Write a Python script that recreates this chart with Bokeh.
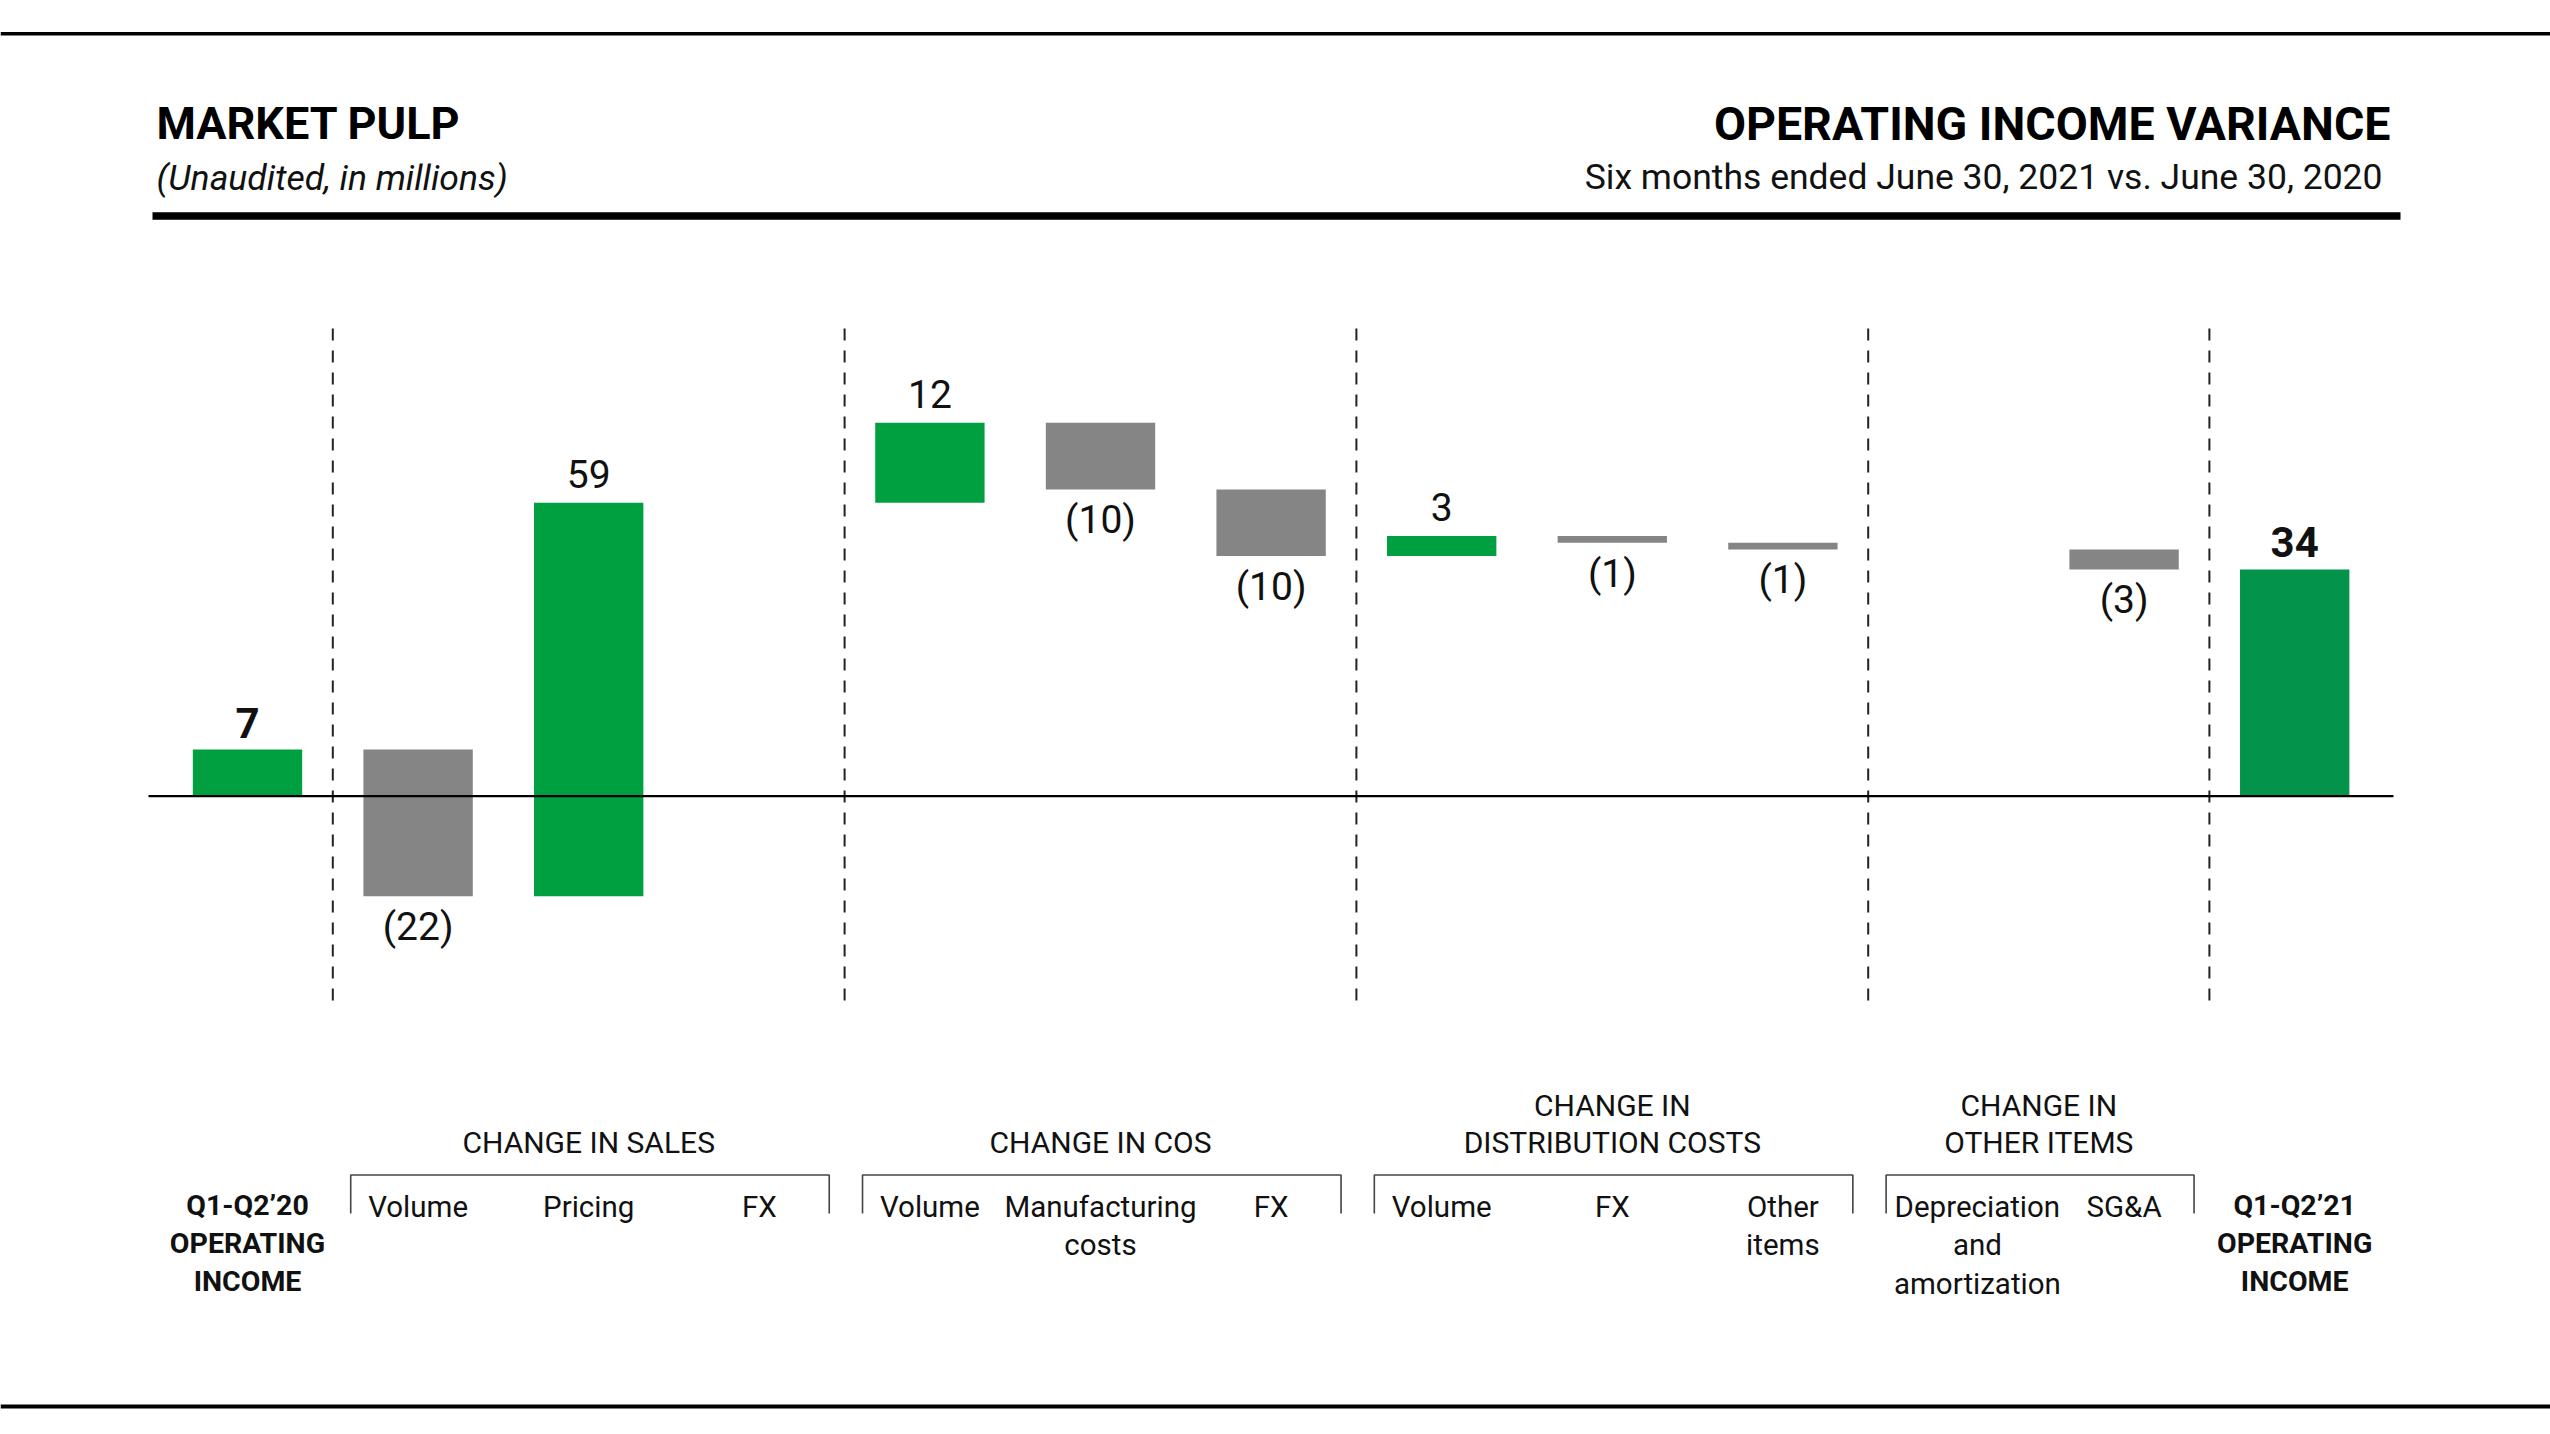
from bokeh.plotting import figure
from bokeh.models import Range1d, ColumnDataSource
from bokeh.core.properties import value
from bokeh.embed import file_html
from bokeh.resources import INLINE

# ---------------- data ----------------
categories = ["Q1-Q2'20 operating income", "Sales volume", "Sales pricing", "Sales FX",
              "COS volume", "Manufacturing costs", "COS FX",
              "Distribution volume", "Distribution FX", "Distribution other items",
              "Depreciation and amortization", "SG&A", "Q1-Q2'21 operating income"]
changes = [7, -22, 59, 0, 12, -10, -10, 3, -1, -1, 0, -3, 34]
is_total = [True, False, False, False, False, False, False, False, False, False, False, False, True]
sub_labels = ["", "Volume", "Pricing", "FX", "Volume", "Manufacturing\ncosts", "FX",
              "Volume", "FX", "Other\nitems", "Depreciation\nand\namortization", "SG&A", ""]
total_labels = ["Q1-Q2\u201920\nOPERATING\nINCOME", "Q1-Q2\u201921\nOPERATING\nINCOME"]
total_index = [0, 12]
group_titles = ["CHANGE IN SALES", "CHANGE IN COS", "CHANGE IN\nDISTRIBUTION COSTS", "CHANGE IN\nOTHER ITEMS"]
group_first = [1, 4, 7, 10]
group_last = [3, 6, 9, 11]
separators_after = [0, 3, 6, 9, 11]
title_left = "MARKET PULP"
subtitle_left = "(Unaudited, in millions)"
title_right = "OPERATING INCOME VARIANCE"
subtitle_right = "Six months ended June 30, 2021 vs. June 30, 2020"

# ---------------- layout / style ----------------
W, H = 2550, 1434
STEP = 170.6           # px per category
X0 = 247               # px of first category centre
PXU = 6.67             # px per million
ZERO = 795.7           # px of zero line from top
x_start = -X0 / STEP
x_end = x_start + W / STEP
y_end = ZERO / PXU
y_start = y_end - H / PXU

def fx(px):   # page px -> data x
    return x_start + px / STEP

def fy(py):   # page px -> data y
    return y_end - py / PXU

FONT = value("Roboto")
GREEN = "#009F40"
GREEN_END = "#03934A"
GRAY = "#858585"
INK = "#111111"

p = figure(width=W, height=H, x_range=Range1d(x_start, x_end), y_range=Range1d(y_start, y_end),
           output_backend="svg", toolbar_location=None, tools="", min_border=0,
           x_axis_type=None, y_axis_type=None, outline_line_color=None,
           background_fill_color="white", border_fill_color="white")

# ---------------- waterfall ----------------
bottoms, tops = [], []
running = 0
for v, tot in zip(changes, is_total):
    if tot:
        lo, hi = min(0, v), max(0, v)
        running = v
    else:
        lo, hi = min(running, running + v), max(running, running + v)
        running += v
    bottoms.append(lo)
    tops.append(hi)

bx, bb, bt, bc = [], [], [], []
for i, v in enumerate(changes):
    if v == 0:
        continue
    bx.append(i); bb.append(bottoms[i]); bt.append(tops[i])
    if is_total[i]:
        bc.append(GREEN if i == 0 else GREEN_END)
    else:
        bc.append(GREEN if v > 0 else GRAY)
p.vbar(x="x", bottom="b", top="t", width=0.641, fill_color="c", line_color=None,
       source=ColumnDataSource(dict(x=bx, b=bb, t=bt, c=bc)))

# separators
for s in separators_after:
    p.segment(x0=s + 0.5, y0=fy(328), x1=s + 0.5, y1=fy(1003), line_color="#222222",
              line_width=2, line_dash="12 10")

# zero line
p.segment(x0=fx(148), y0=0, x1=fx(2393), y1=0, line_color="#000000", line_width=2.2)

# value labels (anchored at visual centre)
for bold in (False, True):
    pos = dict(x=[], y=[], t=[])
    neg = dict(x=[], y=[], t=[])
    for i, v in enumerate(changes):
        if v == 0 or is_total[i] != bold:
            continue
        if v > 0:
            pos["x"].append(i); pos["y"].append(tops[i]); pos["t"].append(str(v))
        else:
            neg["x"].append(i); neg["y"].append(bottoms[i]); neg["t"].append("(%d)" % (-v))
    style = "bold" if bold else "normal"
    size = "42px" if bold else "39px"
    p.text(x="x", y="y", text="t", source=ColumnDataSource(pos), text_align="center",
           text_baseline="middle", y_offset=-27 if bold else -29, text_font=FONT,
           text_font_style=style, text_font_size=value(size), text_color=INK)
    p.text(x="x", y="y", text="t", source=ColumnDataSource(neg), text_align="center",
           text_baseline="middle", y_offset=31, text_font=FONT, text_font_style=style,
           text_font_size=value(size), text_color=INK)

# ---------------- category labels ----------------
label_dx = {10: 0.14}
sub_mid = [1206, 1244.5, 1283]
sx, sy, st = [], [], []
for i, lab in enumerate(sub_labels):
    if not lab:
        continue
    for k, line in enumerate(lab.split("\n")):
        sx.append(i + label_dx.get(i, 0)); sy.append(fy(sub_mid[k])); st.append(line)
p.text(x="x", y="y", text="t", source=ColumnDataSource(dict(x=sx, y=sy, t=st)),
       text_align="center", text_baseline="middle", text_font=FONT,
       text_font_size=value("29.5px"), text_color=INK)

tot_mid = [1205, 1243, 1281]
tx, ty, tt = [], [], []
for i, lab in zip(total_index, total_labels):
    for k, line in enumerate(lab.split("\n")):
        tx.append(i); ty.append(fy(tot_mid[k])); tt.append(line)
p.text(x="x", y="y", text="t", source=ColumnDataSource(dict(x=tx, y=ty, t=tt)),
       text_align="center", text_baseline="middle", text_font=FONT,
       text_font_style="bold", text_font_size=value("28.5px"), text_color=INK)

# group titles and brackets
gx, gy, gt = [], [], []
for title, a, b in zip(group_titles, group_first, group_last):
    lines = title.split("\n")
    n = len(lines)
    for k, line in enumerate(lines):
        gx.append((a + b) / 2); gy.append(fy(1142 - 37 * (n - 1 - k))); gt.append(line)
    p.line(x=[a - 0.395, a - 0.395, b + 0.41, b + 0.41],
           y=[fy(1213), fy(1174.5), fy(1174.5), fy(1213)], line_color="#444444", line_width=1.6)
p.text(x="x", y="y", text="t", source=ColumnDataSource(dict(x=gx, y=gy, t=gt)),
       text_align="center", text_baseline="middle", text_font=FONT,
       text_font_size=value("30px"), text_color=INK)

# ---------------- header ----------------
p.segment(x0=fx(0), y0=fy(33.3), x1=fx(W), y1=fy(33.3), line_color="#000000", line_width=3.5)
p.segment(x0=fx(0), y0=fy(1406), x1=fx(W), y1=fy(1406), line_color="#000000", line_width=4)
p.segment(x0=fx(152), y0=fy(215.5), x1=fx(2400), y1=fy(215.5), line_color="#000000", line_width=7.5)

p.text(x=[fx(156)], y=[fy(123.3)], text=[title_left], text_align="left", text_baseline="middle",
       text_font=FONT, text_font_style="bold", text_font_size=value("45px"), text_color="#000000")
p.text(x=[fx(156)], y=[fy(177)], text=[subtitle_left], text_align="left", text_baseline="middle",
       text_font=FONT, text_font_style="italic", text_font_size=value("35.5px"), text_color=INK)
p.text(x=[fx(2390)], y=[fy(123.3)], text=[title_right], text_align="right", text_baseline="middle",
       text_font=FONT, text_font_style="bold", text_font_size=value("46.5px"), text_color="#000000")
p.text(x=[fx(2382)], y=[fy(176)], text=[subtitle_right], text_align="right", text_baseline="middle",
       text_font=FONT, text_font_size=value("35.5px"), text_color=INK)

open("out.html", "w").write(file_html(p, INLINE))
